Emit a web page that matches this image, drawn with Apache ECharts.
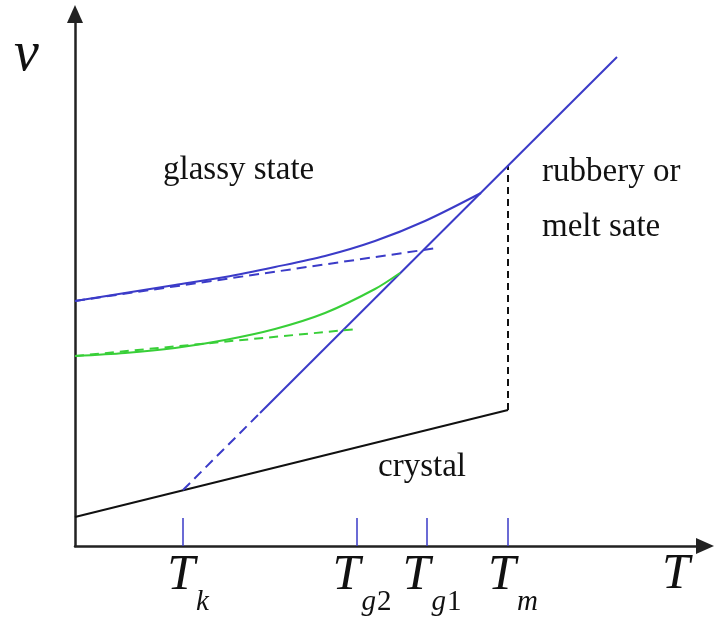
<!DOCTYPE html>
<html>
<head>
<meta charset="utf-8">
<script src="https://cdn.jsdelivr.net/npm/echarts@6/dist/echarts.min.js"></script>
<style>
  html, body { margin: 0; padding: 0; background: #fff; }
  #chart { width: 715px; height: 619px; }
</style>
</head>
<body>
<div id="chart"></div>
<script>
// Specific volume v against temperature T for a polymer:
// liquid/melt line, two glass branches (fast and slow cooling) and the crystal line.

// Characteristic temperatures on the T axis (arbitrary units)
const tempValues = [108, 282, 352, 433];
const tempNames  = ['k', 'g2', 'g1', 'm'];

// Liquid (rubbery / melt) line: extrapolated part below Tg2, then the equilibrium melt
const liquidExtrap = [[108, 56], [185, 133]];
const liquidLine   = [[185, 133], [542, 489]];

// Glass formed at Tg1 (fast cooling) and its linear glass extrapolation
const glass1Curve = [[0, 245], [50, 253], [100, 261], [150, 269], [200, 279], [250, 290], [300, 305], [350, 325], [406, 353]];
const glass1Line  = [[0, 245], [362, 298]];

// Glass formed at Tg2 (slow cooling) and its linear glass extrapolation
const glass2Curve = [[0, 190], [50, 193], [100, 198], [150, 206], [200, 217], [250, 233], [300, 257], [325, 273]];
const glass2Line  = [[0, 190], [282, 217]];

// Crystal line and the volume jump on melting at Tm
const crystalLine = [[0, 29], [433, 136]];
const meltJump    = [[433, 136], [433, 381]];

// Region names
const regionNames = ['glassy state', 'rubbery or', 'melt sate', 'crystal'];

const BLUE = '#3b3bc8';
const GREEN = '#38cf38';
const INK = '#111';
const SERIF = '"Liberation Serif", "DejaVu Serif", serif';

const regionAnchors = [[88, 376], [467, 374], [467, 319], [303, 79]];
const regionData = regionNames.map((n, i) => [regionAnchors[i][0], regionAnchors[i][1], n]);

const chart = echarts.init(document.getElementById('chart'), null, { renderer: 'canvas' });

function line(data, color, dashed, smooth) {
  return {
    type: 'line',
    data: data,
    symbol: 'none',
    smooth: smooth ? 0.3 : false,
    silent: true,
    lineStyle: { color: color, width: 2, type: dashed || 'solid' },
    z: 3
  };
}

chart.setOption({
  animation: false,
  backgroundColor: '#fff',
  grid: { left: 75, right: 10, top: 14, bottom: 73 },
  xAxis: {
    type: 'value',
    min: 0,
    max: 630,
    splitLine: { show: false },
    axisLine: {
      show: true,
      onZero: false,
      symbol: ['none', 'triangle'],
      symbolSize: [16, 18],
      lineStyle: { color: '#222', width: 2.5 }
    },
    axisTick: {
      show: true,
      customValues: tempValues,
      inside: true,
      length: 28,
      lineStyle: { color: BLUE, width: 1.5 }
    },
    axisLabel: {
      show: true,
      customValues: tempValues,
      margin: 5,
      formatter: function (v) {
        const i = tempValues.indexOf(v);
        const sub = tempNames[i] || '';
        let s = '{sp|}{t|T}';
        for (const ch of sub) {
          s += /[0-9]/.test(ch) ? '{sn|' + ch + '}' : '{si|' + ch + '}';
        }
        return s;
      },
      rich: {
        sp: { width: 10 },
        t:  { fontFamily: SERIF, fontStyle: 'italic', fontSize: 50, lineHeight: 50, color: INK, verticalAlign: 'bottom' },
        si: { fontFamily: SERIF, fontStyle: 'italic', fontSize: 29, lineHeight: 29, color: INK, verticalAlign: 'bottom', padding: [0, 0, -16, 1] },
        sn: { fontFamily: SERIF, fontSize: 29, lineHeight: 29, color: INK, verticalAlign: 'bottom', padding: [0, 0, -16, 1] }
      }
    }
  },
  yAxis: {
    type: 'value',
    min: 0,
    max: 532,
    splitLine: { show: false },
    axisTick: { show: false },
    axisLabel: { show: false },
    axisLine: {
      show: true,
      onZero: false,
      symbol: ['none', 'triangle'],
      symbolSize: [16, 18],
      lineStyle: { color: '#222', width: 2.5 }
    }
  },
  graphic: [
    {
      type: 'text',
      left: 14, top: 27,
      style: { text: 'v', font: 'italic 56px ' + SERIF, fill: INK }
    },
    {
      type: 'text',
      left: 662, top: 550,
      style: { text: 'T', font: 'italic 50px ' + SERIF, fill: INK }
    }
  ],
  series: [
    line(crystalLine, INK, 'solid'),
    line(meltJump, INK, [7, 5]),
    line(liquidExtrap, BLUE, [10, 6]),
    line(liquidLine, BLUE, 'solid'),
    line(glass1Curve, BLUE, 'solid', true),
    line(glass1Line, BLUE, [10, 6]),
    line(glass2Curve, GREEN, 'solid', true),
    line(glass2Line, GREEN, [9, 6]),
    {
      type: 'scatter',
      data: regionData,
      symbolSize: 0,
      silent: true,
      itemStyle: { opacity: 1 },
      label: {
        show: true,
        position: [0, 0],
        align: 'left',
        verticalAlign: 'middle',
        formatter: p => p.value[2],
        fontFamily: SERIF,
        fontSize: 33,
        color: INK
      },
      z: 5
    }
  ]
});
</script>
</body>
</html>
